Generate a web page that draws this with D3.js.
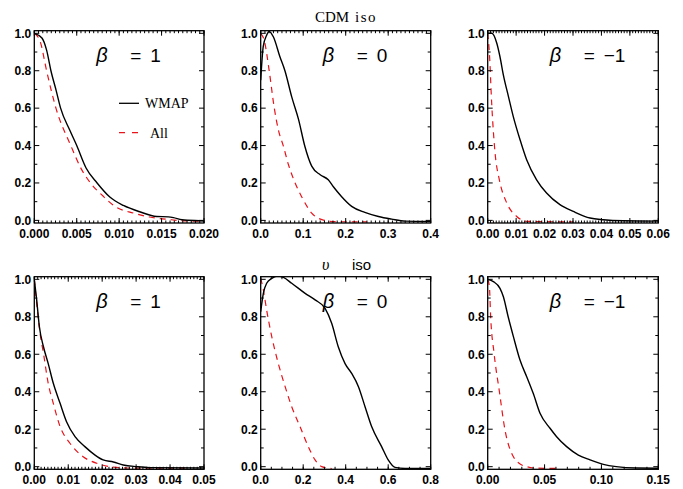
<!DOCTYPE html>
<html><head><meta charset="utf-8">
<script src="https://cdn.jsdelivr.net/npm/d3@7"></script>
<style>body{margin:0;background:#fff}svg{display:block}</style>
</head><body>
<svg id="c" width="683" height="489"></svg>
<script>
// ---- data (x, normalized value) ----
const cdmB1Wmap = [[0,1.0],[0.0009,0.975],[0.00145,0.91],[0.00196,0.80],[0.0026,0.69],[0.0031,0.60],[0.0042,0.48],[0.005,0.40],[0.0061,0.28],[0.0074,0.20],[0.0089,0.125],[0.0105,0.08],[0.0125,0.045],[0.0144,0.021],[0.0158,0.019],[0.0164,0.015],[0.0174,0.003],[0.0195,-0.002],[0.02,-0.003]];
const cdmB1All  = [[0,1.0],[0.0007,0.955],[0.00145,0.80],[0.00255,0.60],[0.0043,0.40],[0.0056,0.27],[0.0068,0.19],[0.0081,0.13],[0.0095,0.075],[0.0117,0.039],[0.0136,0.018],[0.016,0.004],[0.018,-0.003],[0.02,-0.004]];
const cdmB0Wmap = [[0,0.75],[0.006,0.93],[0.014,0.99],[0.02,1.01],[0.03,0.98],[0.045,0.876],[0.057,0.80],[0.073,0.66],[0.089,0.54],[0.104,0.395],[0.12,0.29],[0.14,0.244],[0.159,0.217],[0.171,0.18],[0.19,0.128],[0.214,0.075],[0.245,0.043],[0.277,0.021],[0.308,0.007],[0.34,-0.004],[0.4,-0.006]];
const cdmB0All  = [[0,1.0],[0.0086,0.96],[0.02,0.80],[0.032,0.60],[0.042,0.48],[0.053,0.40],[0.065,0.30],[0.081,0.20],[0.096,0.128],[0.12,0.039],[0.144,0.004],[0.175,-0.007],[0.25,-0.008]];
const cdmBm1Wmap = [[0,1.0],[0.0014,1.0],[0.0032,0.947],[0.0043,0.876],[0.0055,0.778],[0.0073,0.662],[0.009,0.555],[0.0114,0.43],[0.0137,0.324],[0.0172,0.217],[0.0207,0.146],[0.0254,0.084],[0.0301,0.048],[0.036,0.0125],[0.0407,0.0036],[0.0477,-0.002],[0.06,-0.004]];
const cdmBm1All  = [[0,1.0],[0.0006,0.893],[0.0014,0.626],[0.0026,0.359],[0.0041,0.217],[0.0067,0.093],[0.0102,0.021],[0.0137,-0.005],[0.03,-0.008]];
const nuB1Wmap = [[0,1.0],[0.0007,0.89],[0.0015,0.747],[0.0027,0.64],[0.0041,0.55],[0.0056,0.445],[0.0076,0.338],[0.0095,0.24],[0.012,0.16],[0.0149,0.107],[0.0179,0.062],[0.0203,0.036],[0.0233,0.025],[0.0262,0.009],[0.0302,0.0],[0.034,-0.005],[0.05,-0.007]];
const nuB1All  = [[0,1.0],[0.0009,0.836],[0.0017,0.712],[0.0027,0.605],[0.0041,0.445],[0.0056,0.338],[0.0076,0.214],[0.0105,0.125],[0.0144,0.053],[0.0184,0.018],[0.0223,0.0],[0.0272,-0.007],[0.045,-0.008]];
const nuB0Wmap = [[0,0.827],[0.0125,0.925],[0.028,0.979],[0.052,1.005],[0.08,1.018],[0.107,1.01],[0.146,0.979],[0.209,0.925],[0.256,0.89],[0.303,0.845],[0.334,0.765],[0.365,0.64],[0.397,0.55],[0.428,0.498],[0.46,0.427],[0.491,0.32],[0.522,0.214],[0.569,0.107],[0.6,0.036],[0.632,-0.004],[0.68,-0.01],[0.8,-0.01]];
const nuB0All  = [[0,1.005],[0.0125,0.943],[0.028,0.836],[0.052,0.694],[0.083,0.55],[0.115,0.427],[0.146,0.32],[0.185,0.214],[0.224,0.107],[0.256,0.036],[0.287,0.0],[0.334,-0.01]];
const nuBm1Wmap = [[0,1.0],[0.005,0.988],[0.0108,0.952],[0.0138,0.907],[0.018,0.8],[0.0226,0.694],[0.0284,0.569],[0.0343,0.48],[0.0401,0.39],[0.046,0.285],[0.0548,0.205],[0.0606,0.16],[0.0694,0.107],[0.0797,0.062],[0.09,0.036],[0.1017,0.012],[0.113,0.0],[0.131,-0.007],[0.15,-0.008]];
const nuBm1All  = [[0,1.0],[0.0015,0.96],[0.0026,0.8],[0.0056,0.605],[0.0103,0.4],[0.0152,0.196],[0.0226,0.053],[0.027,0.021],[0.0343,0.0],[0.043,-0.008],[0.06,-0.009]];

const xDomains   = [[0,0.02],[0,0.4],[0,0.06],[0,0.05],[0,0.8],[0,0.15]];
const xTickVals  = [[0,0.005,0.01,0.015,0.02],[0,0.1,0.2,0.3,0.4],[0,0.01,0.02,0.03,0.04,0.05,0.06],[0,0.01,0.02,0.03,0.04,0.05],[0,0.2,0.4,0.6,0.8],[0,0.05,0.1,0.15]];
const xTickFmt   = [".3f",".1f",".2f",".2f",".1f",".2f"];
const xMinorN    = [10,10,10,10,4,5];
const yTickVals  = [0,0.2,0.4,0.6,0.8,1.0];
const betaLabels = ["1","0","\u22121","1","0","\u22121"];
const rowTitles  = ["CDM iso","\u03C5 iso"];
const legendLabels = ["WMAP","All"];
const wmapSeries = [cdmB1Wmap,cdmB0Wmap,cdmBm1Wmap,nuB1Wmap,nuB0Wmap,nuBm1Wmap];
const allSeries  = [cdmB1All,cdmB0All,cdmBm1All,nuB1All,nuB0All,nuBm1All];

// ---- layout ----
const svg = d3.select("#c");
const colX = [[34.3,204],[260.7,430.7],[487.7,658.3]];
const rowY = [[30.7,223],[276.7,469.3]];
const yDom = [-0.014,1.014];

for (let i=0;i<6;i++){
  const r = Math.floor(i/3), c = i%3;
  const [x0,x1] = colX[c], [y0,y1] = rowY[r];
  const xs = d3.scaleLinear().domain(xDomains[i]).range([x0,x1]);
  const ys = d3.scaleLinear().domain(yDom).range([y1,y0]);
  const g = svg.append("g");
  const cid = "clip"+i;
  g.append("clipPath").attr("id",cid).append("rect").attr("x",x0).attr("y",y0).attr("width",x1-x0).attr("height",y1-y0);

  const line = d3.line().x(d=>xs(d[0])).y(d=>ys(d[1])).curve(d3.curveMonotoneX);
  g.append("path").datum(allSeries[i]).attr("clip-path",`url(#${cid})`)
    .attr("d",line).attr("fill","none").attr("stroke","#e8141b").attr("stroke-width",1.2).attr("stroke-dasharray","6,5");
  g.append("path").datum(wmapSeries[i]).attr("clip-path",`url(#${cid})`)
    .attr("d",line).attr("fill","none").attr("stroke","#000").attr("stroke-width",1.4);

  // ticks (inward, on all four sides)
  const xt = xTickVals[i];
  const step = xt[1]-xt[0];
  const minor = [];
  const dom = xDomains[i];
  const n = Math.round((dom[1]-dom[0])/step*xMinorN[i]);
  for (let k=0;k<=n;k++) minor.push(dom[0]+k*step/xMinorN[i]);
  const tk = g.append("g").attr("stroke","#000").attr("stroke-width",1);
  minor.forEach(v=>{
    const x = xs(v);
    tk.append("line").attr("x1",x).attr("x2",x).attr("y1",y1).attr("y2",y1-2.5);
    tk.append("line").attr("x1",x).attr("x2",x).attr("y1",y0).attr("y2",y0+2.5);
  });
  xt.forEach(v=>{
    const x = xs(v);
    tk.append("line").attr("x1",x).attr("x2",x).attr("y1",y1).attr("y2",y1-5);
    tk.append("line").attr("x1",x).attr("x2",x).attr("y1",y0).attr("y2",y0+5);
  });
  d3.range(0,11).forEach(k=>{
    const v=k/10, y=ys(v), len = (k%2===0)?5:3;
    tk.append("line").attr("x1",x0).attr("x2",x0+len).attr("y1",y).attr("y2",y);
    tk.append("line").attr("x1",x1).attr("x2",x1-len).attr("y1",y).attr("y2",y);
  });
  g.append("rect").attr("x",x0).attr("y",y0).attr("width",x1-x0).attr("height",y1-y0)
    .attr("fill","none").attr("stroke","#000").attr("stroke-width",1.3);

  // tick labels
  const fx = d3.format(xTickFmt[i]);
  g.selectAll(".xl").data(xt).join("text")
    .attr("x",d=>xs(d)).attr("y",y1+14.5).attr("text-anchor","middle")
    .attr("font-family","Liberation Sans, Arial, sans-serif").attr("font-weight","bold").attr("font-size",12)
    .text(d=>fx(d));
  g.selectAll(".yl").data(yTickVals).join("text")
    .attr("x",x0-3).attr("y",d=>ys(d)+4.3).attr("text-anchor","end")
    .attr("font-family","Liberation Sans, Arial, sans-serif").attr("font-weight","bold").attr("font-size",12)
    .text(d=>d3.format(".1f")(d));

  // beta label
  const by = y0+31;
  const tf = "Liberation Sans, Arial, sans-serif";
  g.append("text").attr("x",x0+62).attr("y",by).attr("font-family",tf).attr("font-style","italic").attr("font-size",20).text("\u03B2");
  g.append("text").attr("x",x0+96).attr("y",by).attr("font-family",tf).attr("font-size",19).text("=");
  g.append("text").attr("x",x0+116).attr("y",by).attr("font-family",tf).attr("font-size",19).text(betaLabels[i]);
}

// row titles
svg.append("text").attr("x",315).attr("y",21.5).attr("font-family","Liberation Serif, Times New Roman, serif").attr("font-size",15).text(rowTitles[0].split(" ")[0]);
svg.append("text").attr("x",355).attr("y",21.5).attr("font-family","Liberation Serif, Times New Roman, serif").attr("font-size",15).attr("letter-spacing",1.5).text(rowTitles[0].split(" ")[1]);
svg.append("text").attr("x",322).attr("y",270).attr("font-family","Liberation Serif, Times New Roman, serif").attr("font-style","italic").attr("font-size",16).text(rowTitles[1].split(" ")[0]);
svg.append("text").attr("x",352).attr("y",270).attr("font-family","Liberation Sans, Arial, sans-serif").attr("font-size",15).text(rowTitles[1].split(" ")[1]);

// legend (first panel)
const lg = svg.append("g");
lg.append("line").attr("x1",119).attr("x2",139).attr("y1",103.3).attr("y2",103.3).attr("stroke","#000").attr("stroke-width",1.3);
lg.append("text").attr("x",145).attr("y",108).attr("font-family","Liberation Serif, Times New Roman, serif").attr("font-size",14).text(legendLabels[0]);
lg.append("line").attr("x1",119).attr("x2",138).attr("y1",132.7).attr("y2",132.7).attr("stroke","#e8141b").attr("stroke-width",1.2).attr("stroke-dasharray","6,7");
lg.append("text").attr("x",150).attr("y",137.5).attr("font-family","Liberation Serif, Times New Roman, serif").attr("font-size",14).text(legendLabels[1]);
</script>
</body></html>
